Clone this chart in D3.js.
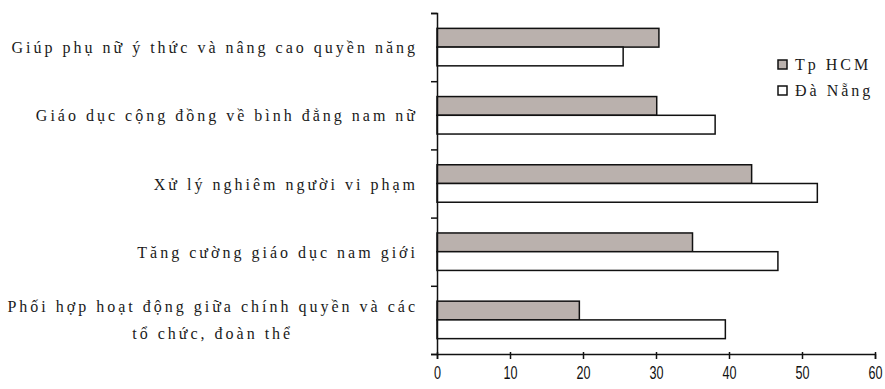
<!DOCTYPE html>
<html>
<head>
<meta charset="utf-8">
<script src="https://cdn.jsdelivr.net/npm/d3@7"></script>
<style>
  html, body { margin: 0; padding: 0; background: #fff; }
  svg { display: block; }
  .serif { font-family: "Liberation Serif", "Times New Roman", Tinos, "DejaVu Serif", serif; }
</style>
</head>
<body>
<svg id="chart" width="885" height="389"></svg>
<script>
// Categories (top to bottom); "\n" breaks a label onto a second line
const categories = [
  "Giúp phụ nữ ý thức và nâng cao quyền năng",
  "Giáo dục cộng đồng về bình đẳng nam nữ",
  "Xử lý nghiêm người vi phạm",
  "Tăng cường giáo dục nam giới",
  "Phối hợp hoạt động giữa chính quyền và các\ntổ chức, đoàn thể"
];
const seriesNames = ["Tp HCM", "Đà Nẵng"];
const hcmValues = [30.4, 30.1, 43.1, 35.0, 19.5];
const danangValues = [25.5, 38.1, 52.1, 46.7, 39.5];
const xTicks = [0, 10, 20, 30, 40, 50, 60];

const seriesColors = ["#bab1ad", "#ffffff"];

const svg = d3.select("#chart");
const plot = { left: 437, right: 875, top: 13, bottom: 354 };

const x = d3.scaleLinear().domain([0, 60]).range([plot.left, plot.right]);
const y = d3.scaleBand().domain(categories).range([plot.top, plot.bottom]).padding(0);
const ySub = d3.scaleBand().domain(seriesNames).range([0, y.bandwidth()])
  .paddingInner(0).paddingOuter(0.82);

const rows = categories.map((c, i) => ({
  cat: c,
  vals: [
    { s: seriesNames[0], v: hcmValues[i] },
    { s: seriesNames[1], v: danangValues[i] }
  ]
}));

// Bars
const groups = svg.append("g").selectAll("g").data(rows).join("g")
  .attr("transform", d => `translate(0,${y(d.cat)})`);
groups.selectAll("rect").data(d => d.vals).join("rect")
  .attr("x", x(0))
  .attr("y", d => ySub(d.s))
  .attr("width", d => x(d.v) - x(0))
  .attr("height", ySub.bandwidth())
  .attr("fill", (d, i) => seriesColors[i])
  .attr("stroke", "#111")
  .attr("stroke-width", 1.5);

// Value axis along the bottom
const xAxis = svg.append("g")
  .attr("transform", `translate(0,${plot.bottom})`)
  .call(d3.axisBottom(x).tickValues(xTicks).tickSize(5).tickSizeOuter(5).tickPadding(7));
xAxis.select(".domain").attr("stroke", "#111").attr("stroke-width", 1.5);
xAxis.selectAll(".tick line").attr("stroke", "#111").attr("stroke-width", 1.5).attr("y1", -2);
xAxis.selectAll(".tick text")
  .attr("fill", "#111")
  .style("font-family", "'Liberation Sans', Arial, sans-serif")
  .style("font-size", "18px")
  .attr("transform", "scale(0.7,1)");

// Category axis: line with tick marks at band boundaries
const yIdx = d3.scaleLinear().domain([0, categories.length]).range([plot.top, plot.bottom]);
const yAxis = svg.append("g")
  .attr("transform", `translate(${plot.left},0)`)
  .call(d3.axisLeft(yIdx).tickValues(d3.range(categories.length + 1))
    .tickFormat("").tickSize(6).tickSizeOuter(6));
yAxis.select(".domain").attr("stroke", "#111").attr("stroke-width", 1.5);
yAxis.selectAll(".tick line").attr("stroke", "#111").attr("stroke-width", 1.5);

// Category labels
const labelRight = 418;
const lineGap = 27;
const labels = svg.append("g")
  .attr("class", "serif")
  .style("font-size", "16px")
  .style("letter-spacing", "3px")
  .attr("fill", "#1a1a1a");
categories.forEach(c => {
  const lines = c.split("\n");
  const cy = y(c) + y.bandwidth() / 2;
  const t = labels.append("text").attr("text-anchor", "middle");
  const spans = lines.map((ln, k) => t.append("tspan")
    .attr("y", cy + 6 + (k - (lines.length - 1) / 2) * lineGap)
    .text(ln));
  const widest = d3.max(spans, s => s.node().getComputedTextLength());
  spans.forEach(s => s.attr("x", labelRight - widest / 2));
});

// Legend
const legend = svg.append("g")
  .attr("class", "serif")
  .style("font-size", "16px")
  .style("letter-spacing", "3px");
seriesNames.forEach((s, i) => {
  const ly = 60 + i * 26;
  legend.append("rect")
    .attr("x", 778).attr("y", ly).attr("width", 9).attr("height", 9)
    .attr("fill", seriesColors[i]).attr("stroke", "#111").attr("stroke-width", 1.5);
  legend.append("text")
    .attr("x", 795).attr("y", ly + 10)
    .attr("fill", "#1a1a1a")
    .text(s);
});
</script>
</body>
</html>
